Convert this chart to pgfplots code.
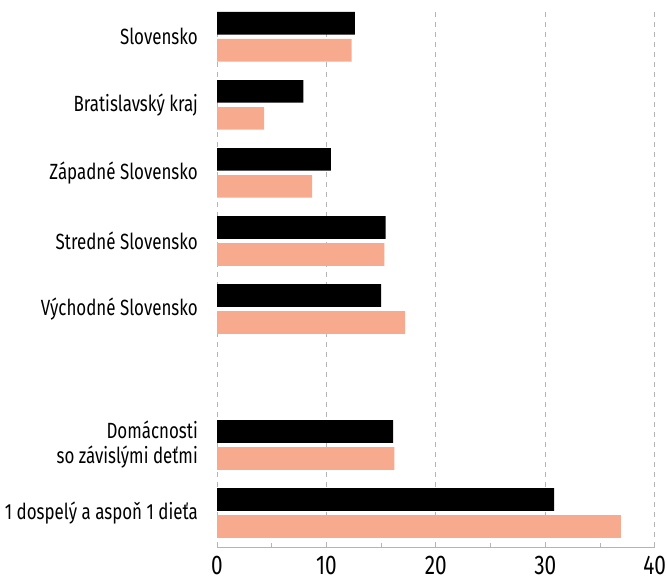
\documentclass[border=0pt]{standalone}
\usepackage{fontspec}
\setmainfont[FakeStretch=0.77]{Fira Sans}
\usepackage{pgfplots}
\pgfplotsset{compat=1.18}
\definecolor{salmon}{HTML}{F8AA8E}
\definecolor{gridgray}{HTML}{B4B4B4}
\begin{document}
\begin{tikzpicture}[x=1pt,y=1pt]
\useasboundingbox (0,0) rectangle (667,-581);
\begin{axis}[
  at={(217pt,-547pt)}, anchor=south west, scale only axis,
  width=437.7pt, height=535pt,
  xmin=0, xmax=40, ymin=-0.5, ymax=7.365,
  xbar, bar width=22.7pt,
  axis x line*=bottom, axis y line*=left,
  x axis line style={gridgray, line width=1pt},
  y axis line style={draw=none},
  xtick={0,10,20,30,40},
  minor xtick={5,15,25,35},
  major tick length=0pt, minor tick length=4pt,
  tick align=inside,
  minor tick style={gridgray, line width=0.8pt},
  ytick style={draw=none},
  xmajorgrids,
  major grid style={gridgray, line width=0.9pt, dash pattern=on 5pt off 5pt},
  /pgf/number format/assume math mode=true,
  xticklabel style={font=\fontsize{27}{30}\selectfont, inner sep=0pt, anchor=north, yshift=-9pt},
  ytick={0,1,3,4,5,6,7},
  yticklabels={1 dospelý a aspoň 1 dieťa, {Domácnosti\\so závislými deťmi}, Východné Slovensko, Stredné Slovensko, Západné Slovensko, Bratislavský kraj, Slovensko},
  yticklabel style={font=\fontsize{22}{25}\selectfont, align=right, anchor=east, inner sep=0pt, xshift=-19pt},
  clip=false,
]
\addplot[fill=black, draw=none, bar shift=13.5pt] coordinates {
  (12.6,7) (7.9,6) (10.4,5) (15.4,4) (15.0,3) (16.1,1) (30.8,0)
};
\addplot[fill=salmon, draw=none, bar shift=-13.5pt] coordinates {
  (12.3,7) (4.3,6) (8.7,5) (15.3,4) (17.2,3) (16.2,1) (36.9,0)
};
\end{axis}
\begin{axis}[
  at={(217pt,-547pt)}, anchor=south west, scale only axis,
  width=437.7pt, height=535pt,
  xmin=0, xmax=40, ymin=0, ymax=1,
  axis x line*=top, axis y line=none,
  x axis line style={draw=none},
  xtick=\empty, minor xtick={5,15,25,35},
  minor tick length=3pt, tick align=inside,
  minor tick style={gridgray, line width=0.8pt},
  xticklabels={},
]
\end{axis}
\end{tikzpicture}
\end{document}
